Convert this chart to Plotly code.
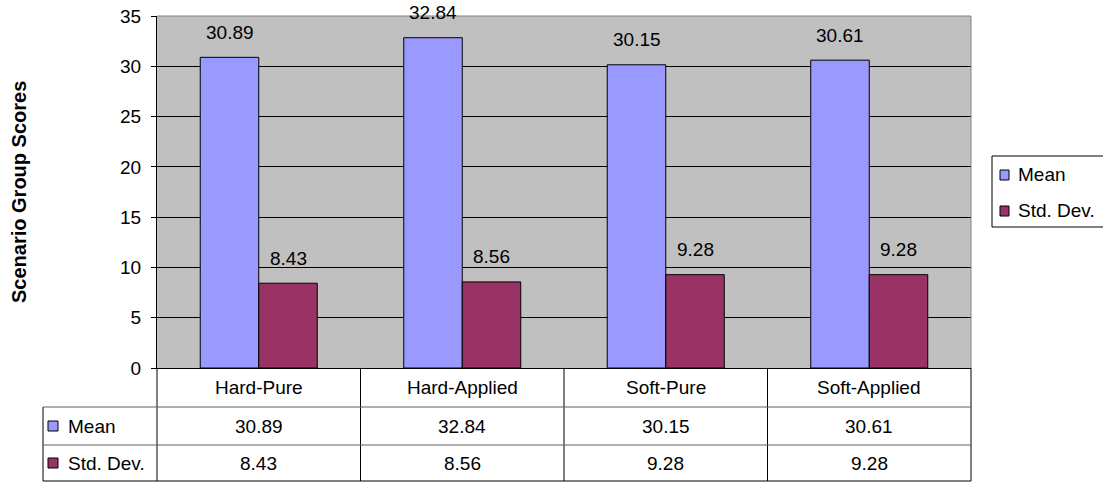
import plotly.graph_objects as go

# ---- data ----
categories = ["Hard-Pure", "Hard-Applied", "Soft-Pure", "Soft-Applied"]
mean_scores = [30.89, 32.84, 30.15, 30.61]
std_scores = [8.43, 8.56, 9.28, 9.28]
series_names = ["Mean", "Std. Dev."]
y_title = "Scenario Group Scores"

# ---- styling ----
FONT = "Liberation Sans, Arial, sans-serif"
FS = 19
MEAN_COLOR = "#9999FF"
STD_COLOR = "#993366"
W, H = 1103, 482
L, R, T, B = 157, 971, 16, 368   # plot area edges in pixels


def px(xp):
    """pixel x -> paper x"""
    return (xp - L) / (R - L)


def py(yp):
    """pixel y -> paper y"""
    return (B - yp) / (B - T)


fig = go.Figure()
bar_line = dict(color="black", width=1)
fig.add_trace(go.Bar(x=categories, y=mean_scores, name=series_names[0],
                     marker=dict(color=MEAN_COLOR, line=bar_line)))
fig.add_trace(go.Bar(x=categories, y=std_scores, name=series_names[1],
                     marker=dict(color=STD_COLOR, line=bar_line)))

BARGAP = 0.425
half_w = (1 - BARGAP) / 4  # half of one bar width in category units

annotations = []
shapes = []

# value labels above the bars
for i, (m, s) in enumerate(zip(mean_scores, std_scores)):
    annotations.append(dict(x=i - half_w, y=m, xref="x", yref="y", text=f"{m:.2f}",
                            showarrow=False, yshift=25, yanchor="middle",
                            font=dict(size=FS, color="black", family=FONT)))
    annotations.append(dict(x=i + half_w, y=s, xref="x", yref="y", text=f"{s:.2f}",
                            showarrow=False, yshift=25, yanchor="middle",
                            font=dict(size=FS, color="black", family=FONT)))

# y-axis title
annotations.append(dict(x=px(19), y=0.5, xref="paper", yref="paper", text=f"<b>{y_title}</b>",
                        textangle=-90, showarrow=False, xanchor="center", yanchor="middle",
                        font=dict(size=20, color="black", family=FONT)))

# plot-area border (top / right)
border = dict(color="#808080", width=1)
shapes.append(dict(type="line", xref="paper", yref="paper", x0=0, x1=1, y0=1, y1=1, line=border))
shapes.append(dict(type="line", xref="paper", yref="paper", x0=1, x1=1, y0=0, y1=1, line=border))

# ---- data table below the axis ----
n = len(categories)
row_cat, row_mean, row_std = 387, 426, 463      # row centres (px)
row_lines = [407, 445, 481]                      # horizontal rules (px)
label_left = 43
dark = dict(color="black", width=1)
grey = dict(color="#606060", width=1)

for k in range(n + 1):
    shapes.append(dict(type="line", xref="paper", yref="paper", x0=k / n, x1=k / n,
                       y0=0, y1=py(row_lines[-1]), line=dark))
shapes.append(dict(type="line", xref="paper", yref="paper", x0=px(label_left), x1=px(label_left),
                   y0=py(row_lines[0]), y1=py(row_lines[-1]), line=dark))
for j, yl in enumerate(row_lines):
    shapes.append(dict(type="line", xref="paper", yref="paper", x0=px(label_left), x1=1,
                       y0=py(yl), y1=py(yl), line=dark if j == len(row_lines) - 1 else grey))

for i, c in enumerate(categories):
    for yy, txt in ((row_cat, c), (row_mean, f"{mean_scores[i]:.2f}"), (row_std, f"{std_scores[i]:.2f}")):
        annotations.append(dict(x=(i + 0.5) / n, y=py(yy), xref="paper", yref="paper", text=txt,
                                showarrow=False, xanchor="center", yanchor="middle",
                                font=dict(size=FS, color="black", family=FONT)))

for yy, name, col in ((row_mean, series_names[0], MEAN_COLOR), (row_std, series_names[1], STD_COLOR)):
    shapes.append(dict(type="rect", xref="paper", yref="paper", x0=px(48), x1=px(58),
                       y0=py(yy - 5), y1=py(yy + 5), fillcolor=col, line=dark))
    annotations.append(dict(x=px(66), y=py(yy), xref="paper", yref="paper", text=name,
                            showarrow=False, xanchor="left", yanchor="middle",
                            font=dict(size=FS, color="black", family=FONT)))

# ---- legend box at right ----
shapes.append(dict(type="rect", xref="paper", yref="paper", x0=px(992), x1=px(1120),
                   y0=py(156), y1=py(227), fillcolor="white", line=dark))
for yy, name, col in ((175, series_names[0], MEAN_COLOR), (211, series_names[1], STD_COLOR)):
    shapes.append(dict(type="rect", xref="paper", yref="paper", x0=px(1000), x1=px(1009),
                       y0=py(yy - 5), y1=py(yy + 5), fillcolor=col, line=dark))
    annotations.append(dict(x=px(1016), y=py(yy - 1), xref="paper", yref="paper", text=name,
                            showarrow=False, xanchor="left", yanchor="middle",
                            font=dict(size=FS, color="black", family=FONT)))

fig.update_layout(
    width=W, height=H,
    margin=dict(l=L, r=W - R, t=T, b=H - B, pad=0, autoexpand=False),
    paper_bgcolor="white", plot_bgcolor="#C0C0C0",
    barmode="group", bargap=BARGAP, bargroupgap=0,
    showlegend=False,
    font=dict(family=FONT, size=FS, color="black"),
    annotations=annotations, shapes=shapes,
)
fig.update_xaxes(showline=True, linecolor="black", linewidth=1, showticklabels=False,
                 ticks="", showgrid=False, range=[-0.5, n - 0.5])
fig.update_yaxes(range=[0, 35], dtick=5, showgrid=True, gridcolor="black", gridwidth=1,
                 showline=True, linecolor="black", linewidth=1, ticks="outside", ticklen=5,
                 tickcolor="black", zeroline=False, ticklabelstandoff=6,
                 tickfont=dict(size=FS, color="black", family=FONT))

fig.write_html("out.html")
